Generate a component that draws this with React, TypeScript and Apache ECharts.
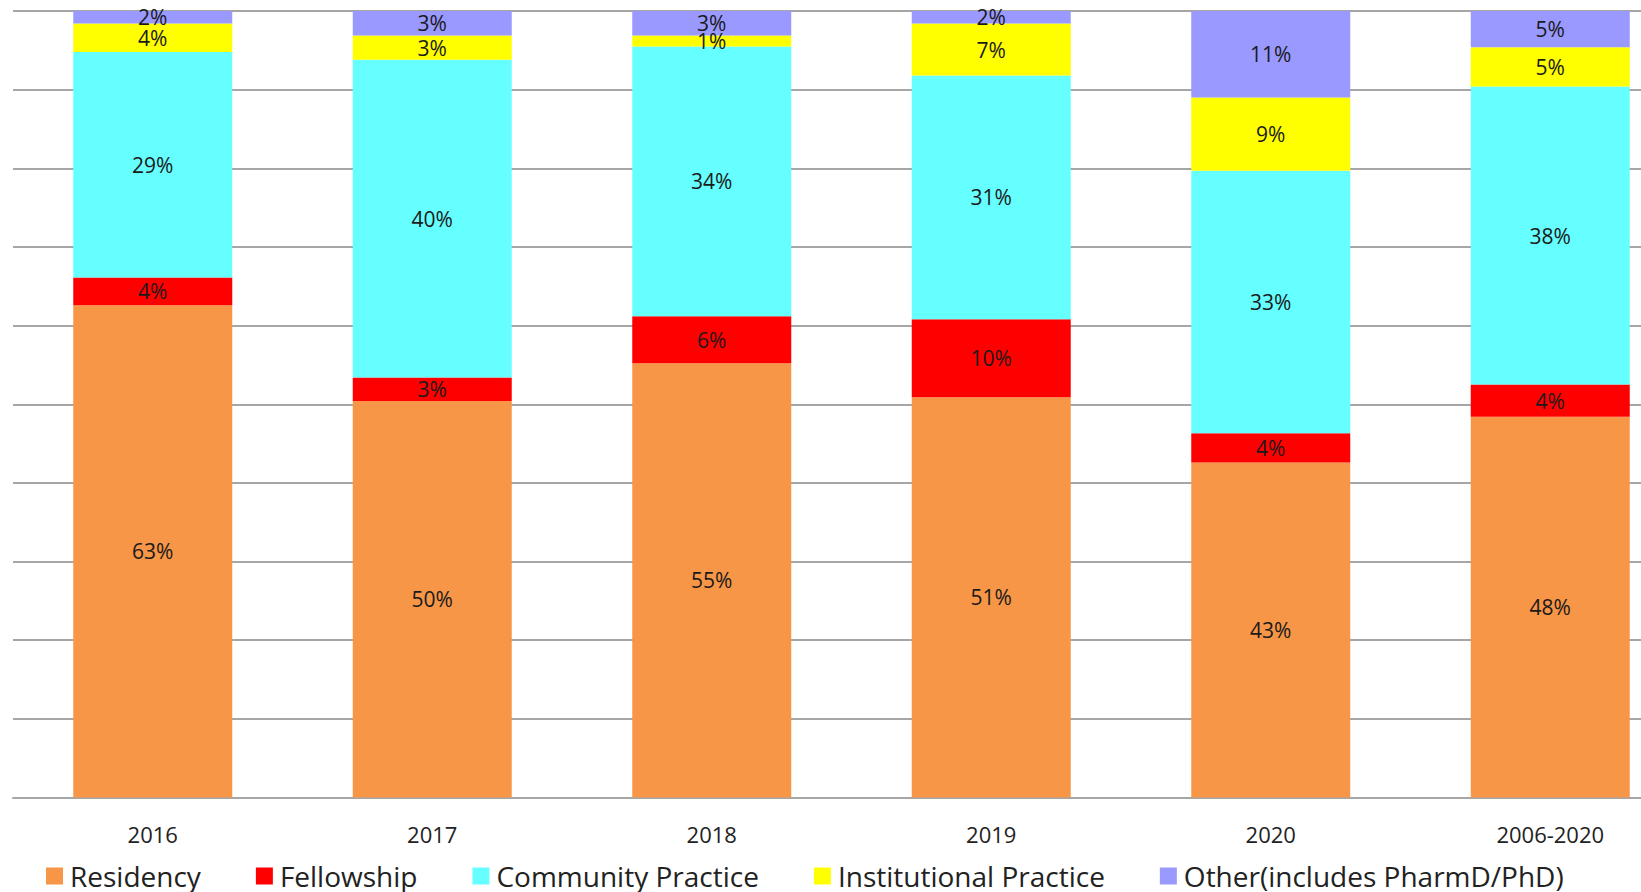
import React, { useEffect, useRef } from "react";
import * as echarts from "echarts";

const categories = ["2016", "2017", "2018", "2019", "2020", "2006-2020"];
const residency = [62.6, 50.4, 55.2, 50.9, 42.6, 48.4];
const fellowship = [3.5, 3.0, 6.0, 9.9, 3.7, 4.1];
const community = [28.7, 40.4, 34.3, 31.0, 33.4, 37.9];
const institutional = [3.6, 3.1, 1.4, 6.6, 9.3, 5.0];
const other = [1.6, 3.1, 3.1, 1.6, 11.0, 4.6];

const seriesDefs = [
  { name: "Residency", data: residency, color: "#F79646" },
  { name: "Fellowship", data: fellowship, color: "#FF0000" },
  { name: "Community Practice", data: community, color: "#66FFFF" },
  { name: "Institutional Practice", data: institutional, color: "#FFFF00" },
  { name: "Other(includes PharmD/PhD)", data: other, color: "#9999FF" },
];

const FONT = "'Open Sans', 'Noto Sans', sans-serif";

export default function App() {
  const ref = useRef<HTMLDivElement>(null);
  useEffect(() => {
    if (!ref.current) return;
    const chart = echarts.init(ref.current, null, { renderer: "svg" });
    chart.setOption({
      animation: false,
      textStyle: { fontFamily: FONT },
      grid: { left: 13, width: 1677, top: 11, bottom: 94.5, containLabel: false },
      legend: {
        left: 41,
        top: 857,
        itemWidth: 17,
        itemHeight: 17,
        itemGap: 55,
        icon: "rect",
        textStyle: { fontSize: 28, color: "#222", fontFamily: FONT, padding: [0, 0, 0, 2] },
        data: seriesDefs.map((s) => s.name),
      },
      xAxis: {
        type: "category",
        data: categories,
        axisLine: { lineStyle: { color: "#A6A6A6", width: 2 } },
        axisTick: { show: false },
        axisLabel: { fontSize: 22, color: "#222", margin: 25, fontFamily: FONT },
      },
      yAxis: {
        type: "value",
        min: 0,
        max: 100,
        interval: 10,
        axisLabel: { show: false },
        axisLine: { show: false },
        axisTick: { show: false },
        splitLine: { lineStyle: { color: "#A6A6A6", width: 2 } },
      },
      series: seriesDefs.map((s) => ({
        name: s.name,
        type: "bar",
        stack: "total",
        barWidth: 159,
        data: s.data,
        itemStyle: { color: s.color },
        label: {
          show: true,
          position: "inside",
          fontSize: 21,
          color: "#1a1a1a",
          fontFamily: FONT,
          formatter: (p: any) => Math.round(p.value) + "%",
        },
      })),
    });
    return () => chart.dispose();
  }, []);
  return (
    <div style={{ position: "absolute", left: 0, top: 0, width: 1641, height: 892, overflow: "hidden", background: "#fff" }}>
      <div ref={ref} style={{ width: 1690, height: 892 }} />
    </div>
  );
}
